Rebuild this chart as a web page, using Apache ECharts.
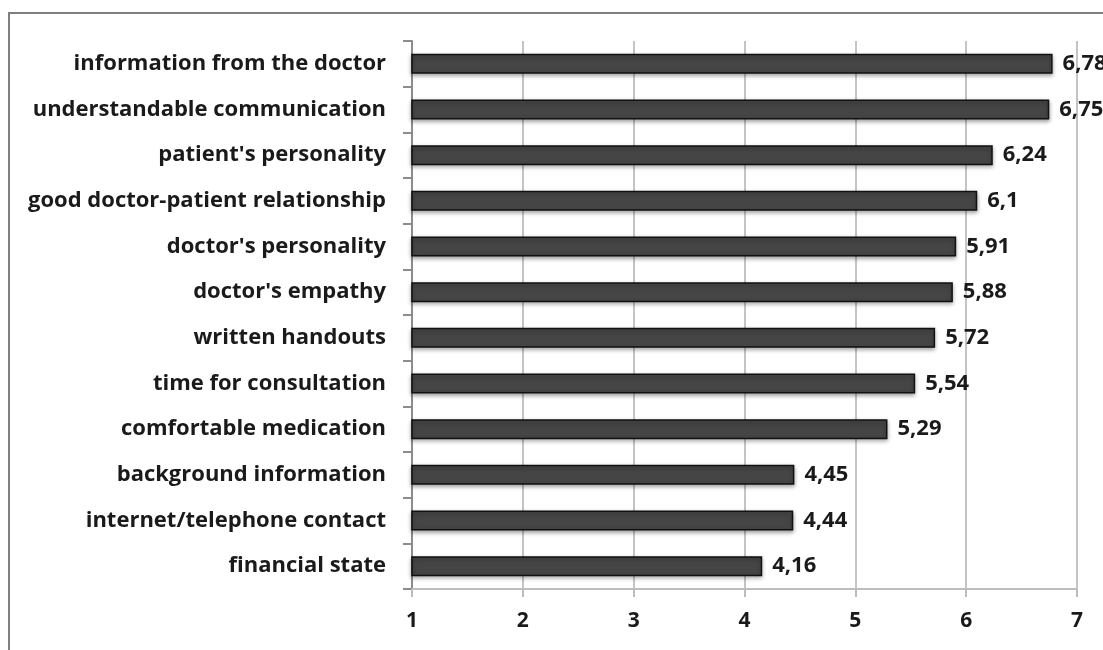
<!DOCTYPE html>
<html>
<head>
<meta charset="utf-8">
<script src="https://cdn.jsdelivr.net/npm/echarts@6/dist/echarts.min.js"></script>
<style>
html,body{margin:0;padding:0;background:#fff;}
#chart{width:1103px;height:650px;}
</style>
</head>
<body>
<div id="chart"></div>
<script>
const categories = [
  "information from the doctor",
  "understandable communication",
  "patient's personality",
  "good doctor-patient relationship",
  "doctor's personality",
  "doctor's empathy",
  "written handouts",
  "time for consultation",
  "comfortable medication",
  "background information",
  "internet/telephone contact",
  "financial state"
];
const values = [6.78, 6.75, 6.24, 6.1, 5.91, 5.88, 5.72, 5.54, 5.29, 4.45, 4.44, 4.16];
const xTicks = [1, 2, 3, 4, 5, 6, 7];

const FONT = "Open Sans";
const chart = echarts.init(document.getElementById('chart'));
chart.setOption({
  animation: false,
  backgroundColor: '#fff',
  graphic: [{
    type: 'rect',
    shape: { x: 9, y: 13, width: 1300, height: 1000 },
    style: { fill: 'none', stroke: '#7f7f7f', lineWidth: 2 },
    silent: true
  }],
  grid: { left: 412, right: 26, top: 41, bottom: 61, containLabel: false },
  xAxis: {
    type: 'value',
    min: xTicks[0],
    max: xTicks[xTicks.length - 1],
    interval: 1,
    axisLine: { show: true, lineStyle: { color: '#bdbdbd', width: 2 } },
    axisTick: { show: true, length: 8, lineStyle: { color: '#bdbdbd', width: 2 } },
    splitLine: { show: true, lineStyle: { color: '#c4c4c4', width: 2 } },
    axisLabel: { color: '#1a1a1a', fontFamily: FONT, fontWeight: 'bold', fontSize: 21, margin: 22 }
  },
  yAxis: {
    type: 'category',
    inverse: true,
    data: categories,
    axisLine: { show: true, lineStyle: { color: '#8c8c8c', width: 2 } },
    axisTick: { show: true, length: 9, lineStyle: { color: '#8c8c8c', width: 2 } },
    axisLabel: { color: '#1a1a1a', fontFamily: FONT, fontWeight: 'bold', fontSize: 22, margin: 26 }
  },
  series: [{
    type: 'bar',
    data: values,
    barWidth: 20,
    clip: true,
    itemStyle: {
      color: '#454545',
      borderColor: '#111',
      borderWidth: 1.5,
      shadowColor: 'rgba(0,0,0,0.35)',
      shadowBlur: 4,
      shadowOffsetY: 2
    },
    label: {
      show: true,
      position: 'right',
      distance: 10,
      color: '#1a1a1a',
      fontFamily: FONT,
      fontWeight: 'bold',
      fontSize: 22,
      formatter: p => String(p.value).replace('.', ',')
    }
  }]
});
</script>
</body>
</html>
